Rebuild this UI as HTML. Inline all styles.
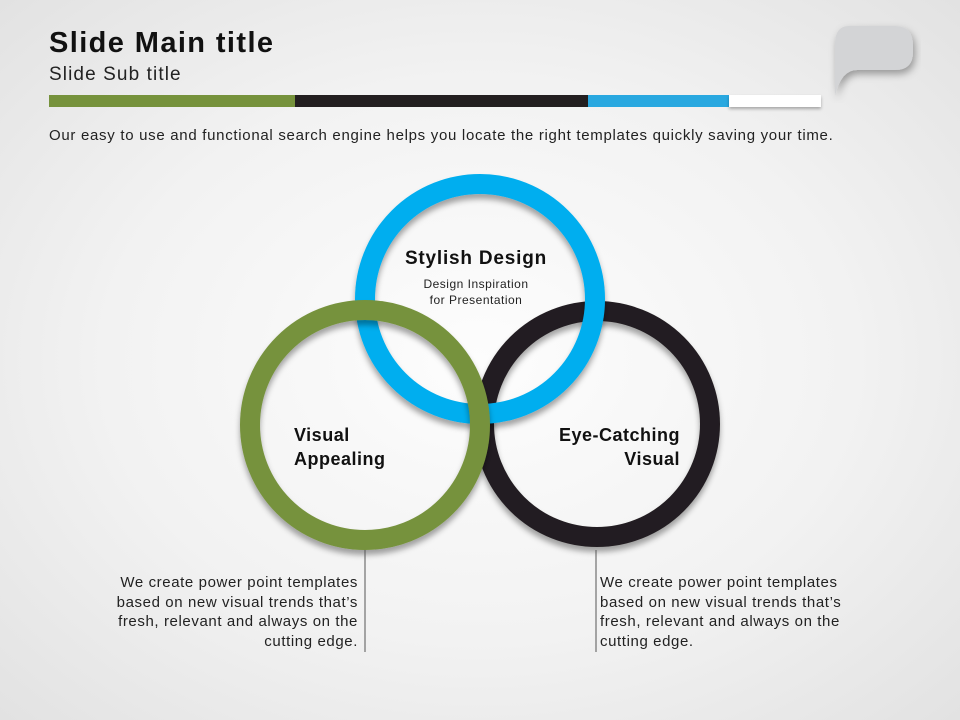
<!DOCTYPE html>
<html><head><style>
body{margin:0;width:960px;height:720px;overflow:hidden;background:radial-gradient(ellipse at 50% 50%,#fdfdfd 0%,#f2f2f2 55%,#e2e2e2 100%);font-family:"Liberation Sans",sans-serif;position:relative}
.t{position:absolute;color:#111}
</style></head><body>
<div class="t" style="left:49px;top:27px;font-size:29px;font-weight:bold;color:#111;letter-spacing:1.4px">Slide Main title</div>
<div class="t" style="left:49px;top:64px;font-size:19px;color:#222;letter-spacing:1.1px">Slide Sub title</div>
<div style="position:absolute;left:49px;top:95px;width:246px;height:12px;background:#76923c"></div>
<div style="position:absolute;left:295px;top:95px;width:293px;height:12px;background:#231f20"></div>
<div style="position:absolute;left:588px;top:95px;width:141px;height:12px;background:#29a8e0"></div>
<div style="position:absolute;left:729px;top:95px;width:92px;height:12px;background:#fff;box-shadow:0 2px 3px rgba(0,0,0,.3)"></div>
<svg style="position:absolute;left:825px;top:18px" width="100" height="90">
<defs><filter id="s"><feDropShadow dx="2" dy="4" stdDeviation="4" flood-opacity=".35"/></filter></defs>
<path d="M24 8 H70 Q88 8 88 28 V34 Q88 52 70 52 H32 Q16 52 10 78 V26 Q10 8 24 8Z" fill="#d3d4d6" filter="url(#s)"/>
</svg>
<div class="t" style="left:49px;top:127px;font-size:15px;color:#222;letter-spacing:0.7px">Our easy to use and functional search engine helps you locate the right templates quickly saving your time.</div>
<svg style="position:absolute;left:0;top:0" width="960" height="720">
<defs><filter id="d"><feDropShadow dx="0" dy="5" stdDeviation="3" flood-opacity=".35"/></filter></defs>
<circle cx="597" cy="424" r="113" fill="none" stroke="#231f20" stroke-width="20" filter="url(#d)"/>
<circle cx="480" cy="299" r="115" fill="none" stroke="#00aeef" stroke-width="20" filter="url(#d)"/>
<circle cx="365" cy="425" r="115" fill="none" stroke="#76923c" stroke-width="20" filter="url(#d)"/>
<line x1="365" y1="550" x2="365" y2="652" stroke="#555" stroke-width="1"/>
<line x1="596" y1="550" x2="596" y2="652" stroke="#555" stroke-width="1"/>
</svg>
<div class="t" style="left:376px;top:248px;width:200px;text-align:center;font-size:19px;font-weight:bold;letter-spacing:0.8px">Stylish Design</div>
<div class="t" style="left:376px;top:276px;width:200px;text-align:center;font-size:12px;line-height:16px;color:#222;letter-spacing:0.5px">Design Inspiration<br>for Presentation</div>
<div class="t" style="left:294px;top:423px;font-size:18px;font-weight:bold;line-height:24px;letter-spacing:0.5px">Visual<br>Appealing</div>
<div class="t" style="left:500px;top:423px;width:180px;text-align:right;font-size:18px;font-weight:bold;line-height:24px;letter-spacing:0.5px">Eye-Catching<br>Visual</div>
<div class="t" style="left:90px;top:573px;width:268px;text-align:right;font-size:15px;line-height:19.5px;color:#222;letter-spacing:0.6px">We create power point templates based on new visual trends that’s fresh, relevant and always on the cutting edge.</div>
<div class="t" style="left:600px;top:573px;width:262px;font-size:15px;line-height:19.5px;color:#222;letter-spacing:0.6px">We create power point templates based on new visual trends that’s fresh, relevant and always on the cutting edge.</div>
</body></html>
